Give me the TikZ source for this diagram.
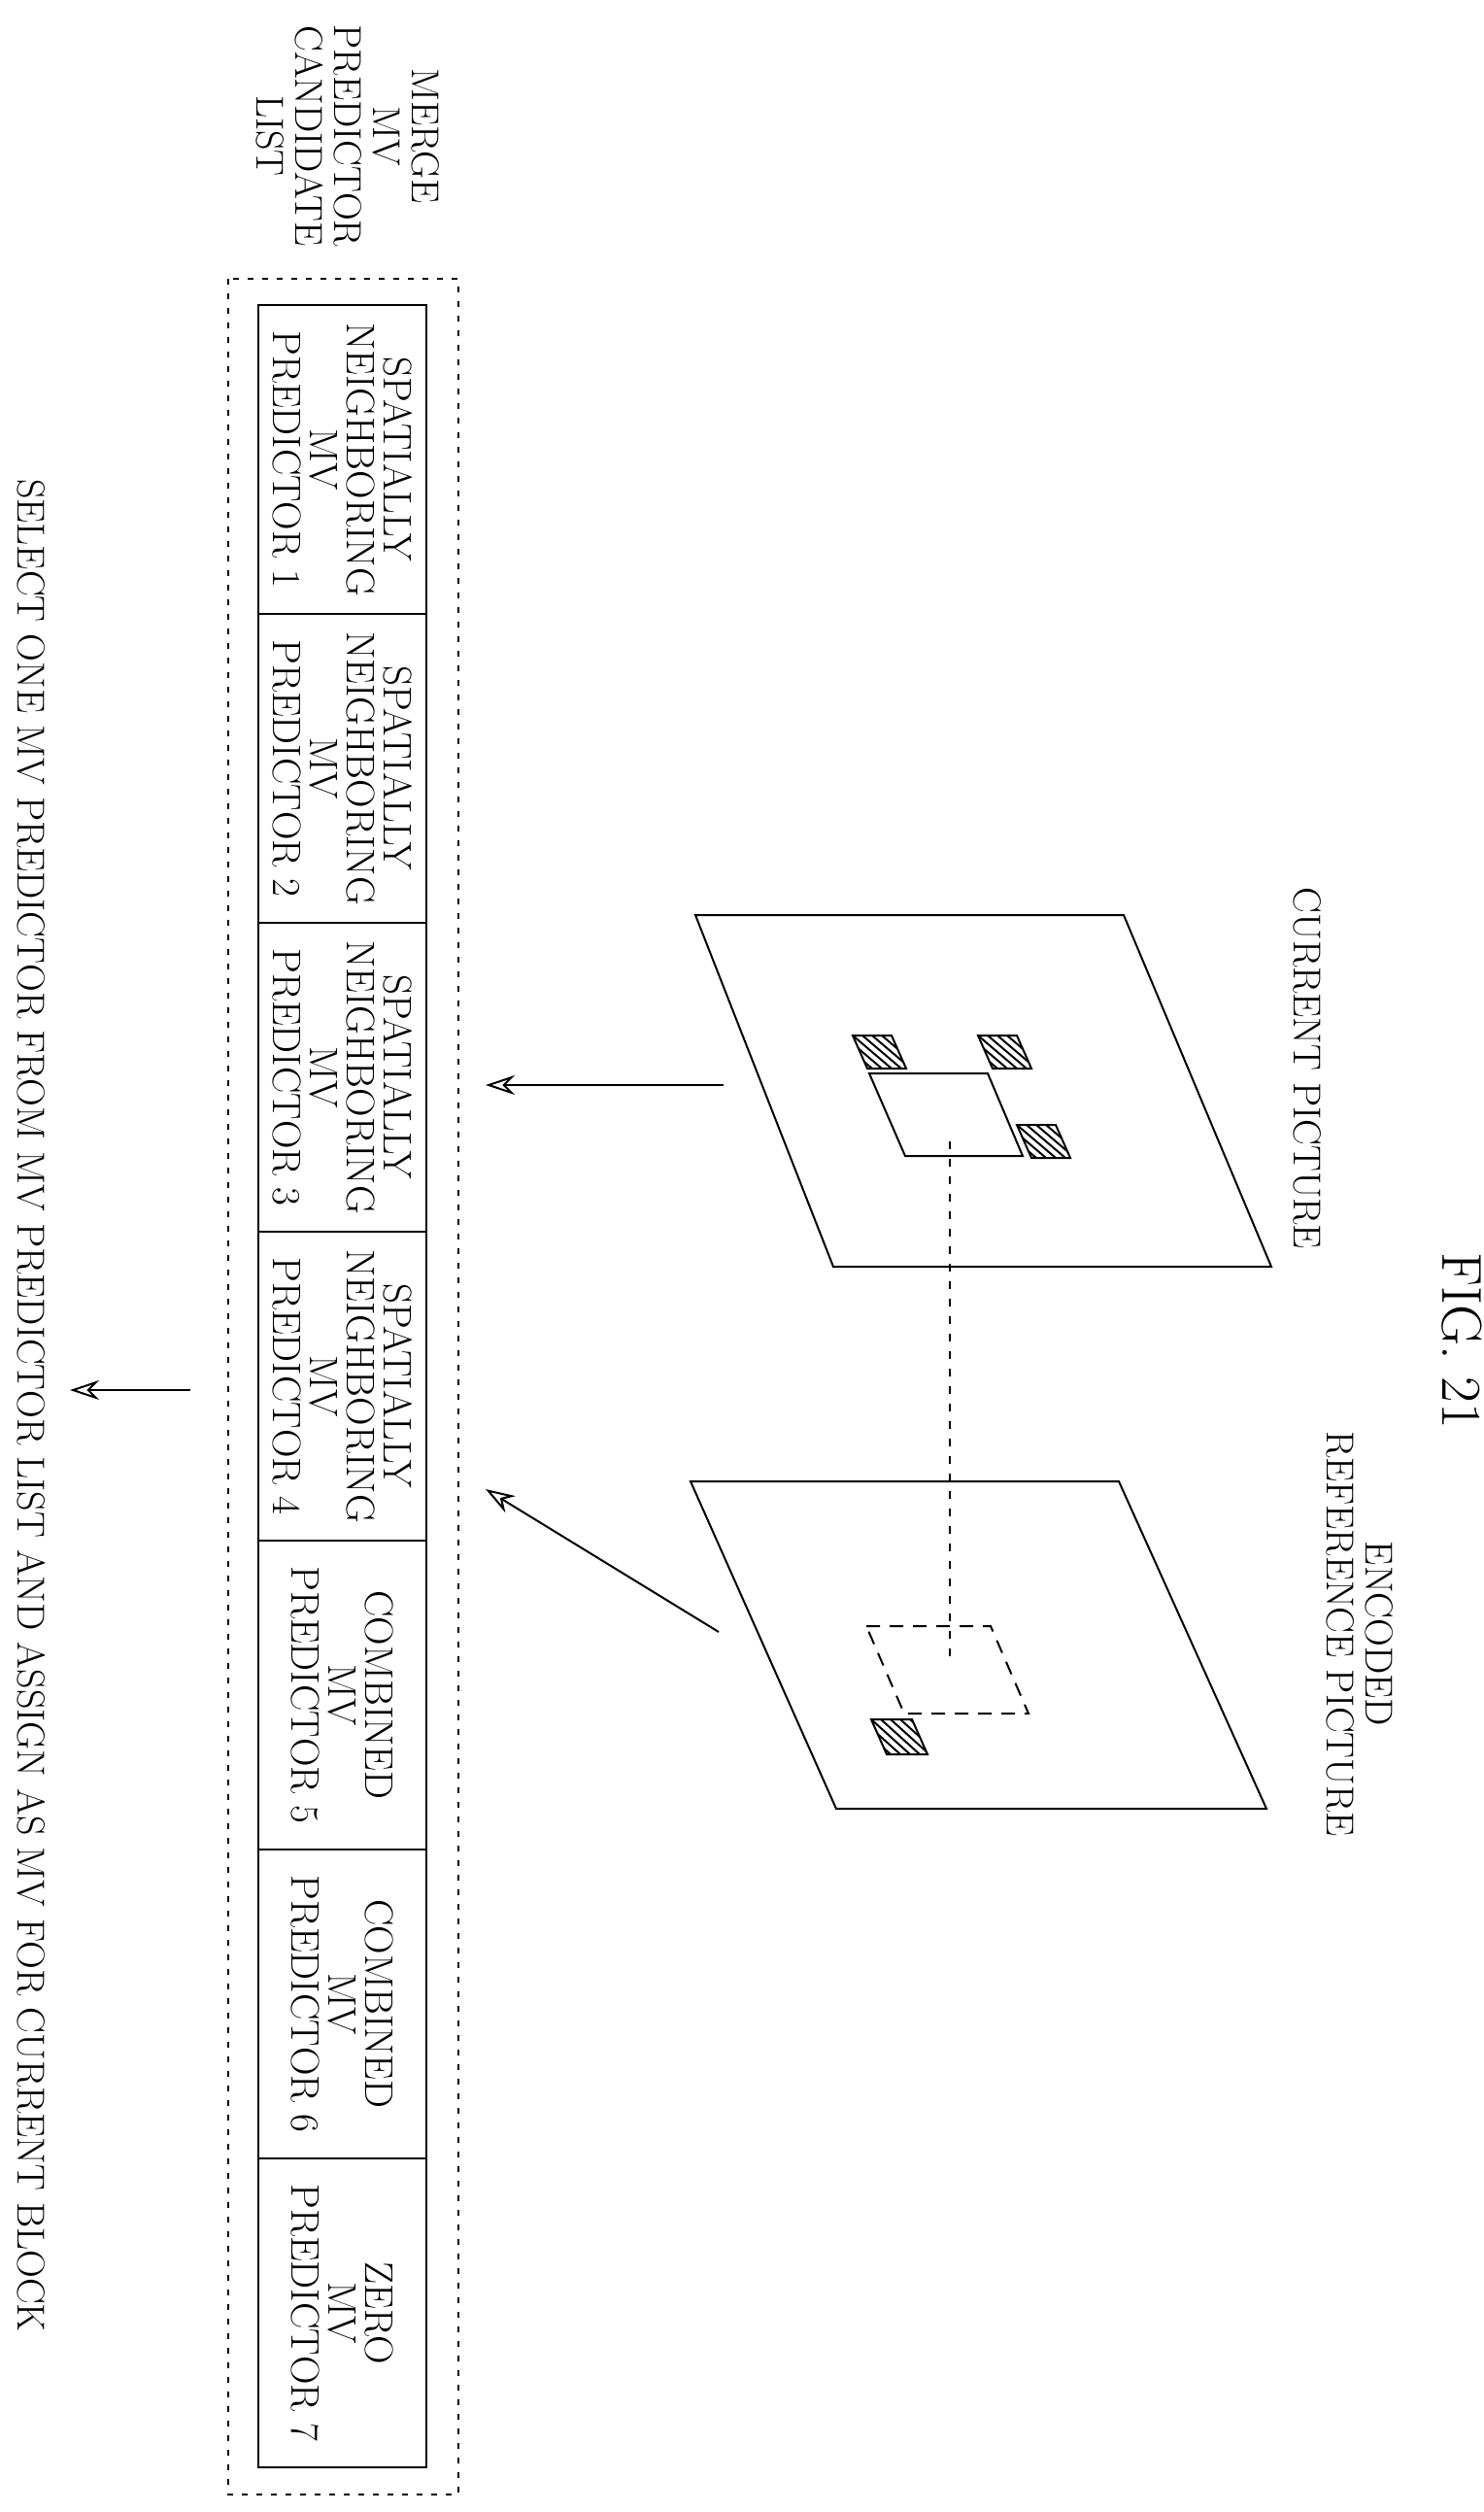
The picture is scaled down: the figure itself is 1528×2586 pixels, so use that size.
\documentclass[tikz,border=0pt]{standalone}
\usetikzlibrary{arrows.meta}
\begin{document}
\begin{tikzpicture}[x=1pt,y=-1pt,
  ln/.style={line width=2pt},
  dsh/.style={line width=2pt,dash pattern=on 6pt off 9pt},
  cell/.style={draw,line width=2pt,minimum width=173pt,minimum height=318pt,anchor=north west,inner sep=0pt},
  celltxt/.style={rotate=-90,align=center,font=\fontsize{41}{38}\selectfont},
  lbl/.style={rotate=-90,align=center,font=\fontsize{40}{40}\selectfont},
  arr/.style={line width=2pt,-{Stealth[length=30pt,width=20pt,open]}},
  hat/.style={line width=2pt}]
\useasboundingbox (0,0) rectangle (1528,2586);
\node[lbl,font=\fontsize{58}{60}\selectfont] (fig) at (1505,1380) {FIG. 21};
\node[lbl] (cur) at (1346,1100) {CURRENT PICTURE};
\node[lbl] (enc) at (1400,1682) {ENCODED\\REFERENCE PICTURE};
\node[lbl] (merge) at (358,140) {MERGE\\MV\\PREDICTOR\\CANDIDATE\\LIST};
\node[lbl] (sel) at (32,1447) {SELECT ONE MV PREDICTOR FROM MV PREDICTOR LIST AND ASSIGN AS MV FOR CURRENT BLOCK};
% outer dashed box
\draw[dsh] (235,287) rectangle (472,2568);
% cells
\foreach \i/\t in {0/{SPATIALLY\\NEIGHBORING\\MV\\PREDICTOR 1},1/{SPATIALLY\\NEIGHBORING\\MV\\PREDICTOR 2},2/{SPATIALLY\\NEIGHBORING\\MV\\PREDICTOR 3},3/{SPATIALLY\\NEIGHBORING\\MV\\PREDICTOR 4},4/{COMBINED\\MV\\PREDICTOR 5},5/{COMBINED\\MV\\PREDICTOR 6},6/{ZERO\\MV\\PREDICTOR 7}}{
  \node[cell] (c\i) at (265,313+318*\i) {};
  \node[celltxt] (t\i) at (c\i.center) {\t};
}
% current picture
\draw[ln] (716,942) -- (1157,942) -- (1309,1304) -- (858,1304) -- cycle;
\draw[ln] (895,1105) -- (1017,1105) -- (1053,1190) -- (932,1190) -- cycle;
% hatched blocks
\foreach \ax/\ay in {878/1066,1007/1066,1047/1158}{
  \begin{scope}
    \clip (\ax,\ay) -- ++(40,0) -- ++(15,34) -- ++(-40,0) -- cycle;
    \foreach \k in {-40,-30,...,60} \draw[line width=2pt] (\ax+\k,\ay) -- ++(40,34);
  \end{scope}
  \draw[hat] (\ax,\ay) -- ++(40,0) -- ++(15,34) -- ++(-40,0) -- cycle;
}
% reference picture
\draw[ln] (711,1525) -- (1152,1525) -- (1304,1862) -- (861,1862) -- cycle;
\draw[line width=2pt,dash pattern=on 14pt off 10pt] (892,1674) -- (1020,1674) -- (1059,1764) -- (931,1764) -- cycle;
\begin{scope}
  \clip (897,1770) -- ++(42,0) -- ++(16,36) -- ++(-42,0) -- cycle;
  \foreach \k in {-40,-30,...,60} \draw[line width=2pt] (897+\k,1770) -- ++(40,36);
\end{scope}
\draw[hat] (897,1770) -- ++(42,0) -- ++(16,36) -- ++(-42,0) -- cycle;
% connector
\coordinate (d1) at (978,1175);
\coordinate (d2) at (978,1705);
\draw[line width=2pt,dash pattern=on 8pt off 10pt] (d1) -- (d2);
% arrows
\coordinate (a1s) at (745,1117); \coordinate (a1e) at (500,1117);
\coordinate (a2s) at (740,1680); \coordinate (a2e) at (500,1533);
\coordinate (a3s) at (196,1431); \coordinate (a3e) at (72,1431);
\draw[arr] (a1s) -- (a1e);
\draw[arr] (a2s) -- (a2e);
\draw[arr] (a3s) -- (a3e);
\end{tikzpicture}
\end{document}
